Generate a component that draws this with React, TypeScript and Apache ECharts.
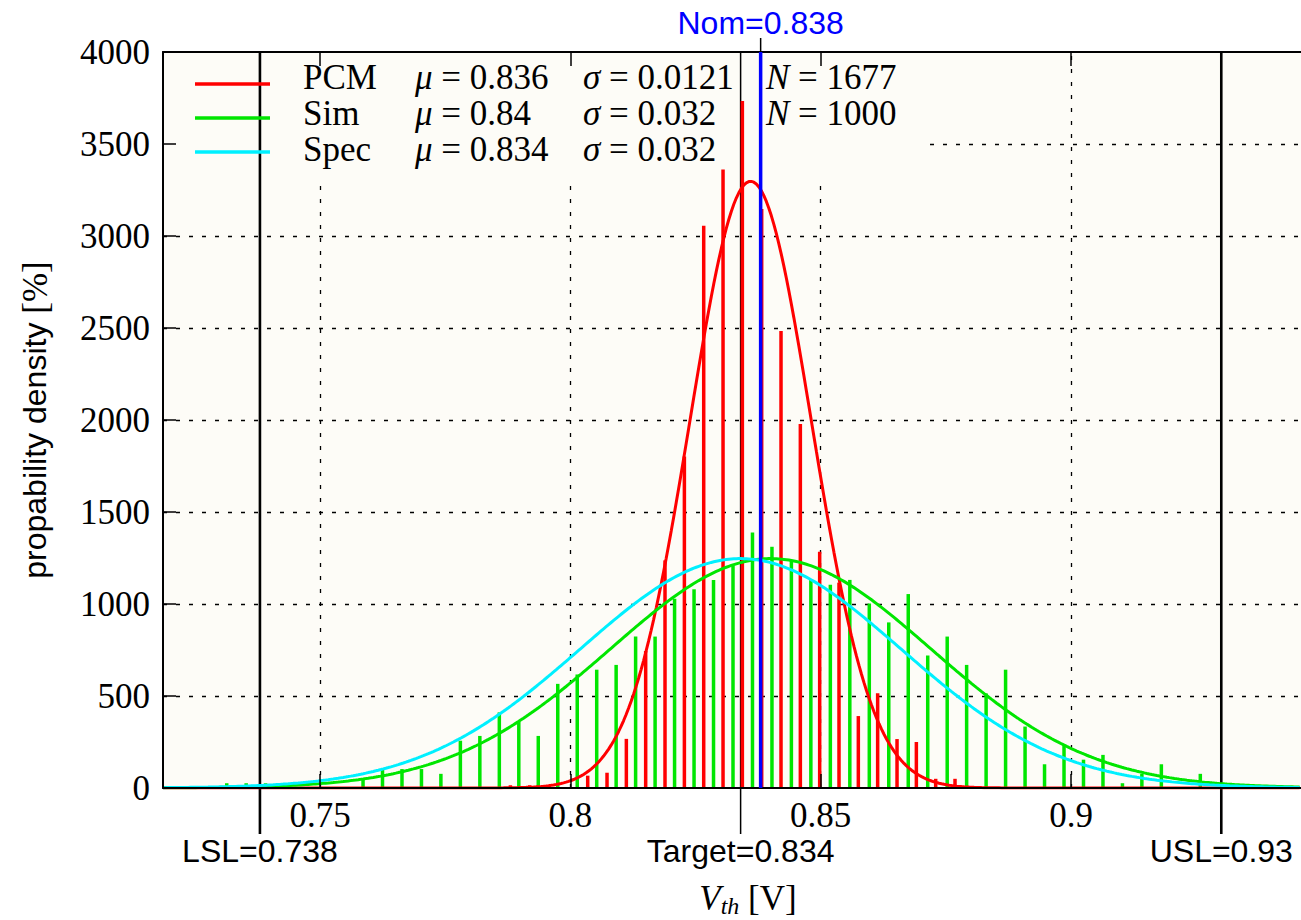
import React, { useEffect, useRef } from "react";
import * as echarts from "echarts";

// Axis ranges and tick positions
const X_MIN = 0.71864;
const X_MAX = 0.94592;
const Y_MIN = 0;
const Y_MAX = 4000;
const Y_STEP = 500;
const xTicks = [0.75, 0.8, 0.85, 0.9];
const yGridValues = [500, 1000, 1500, 2000, 2500, 3000, 3500];

// PCM histogram (bin centres in V, density in %/V)
const pcmCenters = [
  0.78802, 0.79188, 0.79574, 0.7996, 0.80346, 0.80732, 0.81118, 0.81504,
  0.8189, 0.82277, 0.82663, 0.83049, 0.83435, 0.83821, 0.84207, 0.84593,
  0.84979, 0.85365, 0.85751, 0.86137, 0.86524, 0.8691, 0.87296, 0.87682,
];
const pcmDensity = [
  15, 15, 15, 0, 67, 83, 267, 745, 1237, 1801, 3056, 3362, 3734, 3147, 2484,
  1978, 1284, 1116, 391, 515, 266, 250, 50, 50,
];

// Simulation histogram (bin centres in V, density in %/V)
const simCenters = [
  0.73137, 0.73525, 0.73914, 0.74303, 0.74692, 0.75081, 0.7547, 0.75859,
  0.76248, 0.76637, 0.77026, 0.77414, 0.77803, 0.78192, 0.78581, 0.7897,
  0.79359, 0.79748, 0.80137, 0.80526, 0.80914, 0.81303, 0.81692, 0.82081,
  0.8247, 0.82859, 0.83248, 0.83637, 0.84026, 0.84414, 0.84803, 0.85192,
  0.85581, 0.8597, 0.86359, 0.86748, 0.87137, 0.87526, 0.87914, 0.88303,
  0.88692, 0.89081, 0.8947, 0.89859, 0.90248, 0.90637, 0.91026, 0.91414,
  0.91803, 0.92192, 0.92581,
];
const simDensity = [
  26, 26, 26, 0, 0, 0, 0, 51, 103, 103, 103, 77, 257, 283, 411, 360, 283, 566,
  617, 643, 669, 823, 823, 1028, 1080, 1131, 1208, 1388, 1311, 1234, 1131,
  1105, 1131, 1003, 900, 1054, 720, 823, 669, 514, 643, 334, 129, 231, 154,
  180, 26, 77, 129, 0, 77,
];

// Normal fits shown in the legend
const fitNames = ["PCM", "Sim", "Spec"];
const fitMu = [0.836, 0.84, 0.834];
const fitSigma = [0.0121, 0.032, 0.032];
const fitN = [1677, 1000, null];
const fitColors = ["#ff0000", "#00e600", "#00f0ff"];

// Specification limits and nominal value
const specNames = ["LSL", "Target", "USL"];
const specValues = [0.738, 0.834, 0.93];
const nomName = "Nom";
const nomValue = 0.838;

const SERIF = "'Liberation Serif', 'DejaVu Serif', serif";
const SANS = "'Liberation Sans', 'DejaVu Sans', sans-serif";
const PLOT_BG = "#fdfcf7";

function normalCurve(mu: number, sigma: number): number[][] {
  const pts: number[][] = [];
  const k = 100 / (sigma * Math.sqrt(2 * Math.PI));
  for (let x = X_MIN; x <= X_MAX + 1e-9; x += 0.0005) {
    const z = (x - mu) / sigma;
    pts.push([x, k * Math.exp(-0.5 * z * z)]);
  }
  return pts;
}

export default function App() {
  const ref = useRef<HTMLDivElement>(null);

  useEffect(() => {
    if (!ref.current) return;
    const chart = echarts.init(ref.current, null, { renderer: "svg" });

    const gridLines = [
      ...yGridValues.map((v) => ({ coords: [[X_MIN, v], [X_MAX, v]] })),
      ...xTicks.map((v) => ({ coords: [[v, Y_MIN], [v, Y_MAX]] })),
    ];

    const axisCommon = {
      type: "value" as const,
      min: X_MIN,
      max: X_MAX,
      splitLine: { show: false },
      axisLine: { show: true, onZero: false, lineStyle: { color: "#000", width: 2 } },
      z: 6,
    };

    chart.setOption({
      animation: false,
      backgroundColor: "#ffffff",
      grid: {
        left: 163,
        top: 52,
        right: 0,
        bottom: 132,
        show: true,
        backgroundColor: PLOT_BG,
        borderWidth: 0,
      },
      xAxis: [
        {
          ...axisCommon,
          position: "bottom",
          axisTick: {
            show: true,
            inside: true,
            length: 14,
            customValues: xTicks,
            lineStyle: { color: "#000", width: 1.5 },
          },
          axisLabel: {
            show: true,
            customValues: xTicks,
            formatter: (v: number) => String(v),
            fontFamily: SERIF,
            fontSize: 35,
            color: "#000",
            margin: 10,
          },
        },
        {
          ...axisCommon,
          position: "top",
          axisTick: {
            show: true,
            inside: true,
            length: 14,
            customValues: xTicks,
            lineStyle: { color: "#000", width: 1.5 },
          },
          axisLabel: { show: false },
        },
      ],
      yAxis: {
        type: "value",
        min: Y_MIN,
        max: Y_MAX,
        interval: Y_STEP,
        z: 6,
        splitLine: { show: false },
        axisLine: { show: true, lineStyle: { color: "#000", width: 2 } },
        axisTick: { show: true, inside: true, length: 13, lineStyle: { color: "#000", width: 1.5 } },
        axisLabel: {
          formatter: (v: number) => String(v),
          fontFamily: SERIF,
          fontSize: 35,
          color: "#000",
          margin: 13,
        },
      },
      series: [
        {
          type: "lines",
          coordinateSystem: "cartesian2d",
          silent: true,
          z: 1,
          data: gridLines,
          lineStyle: { color: "#000", width: 1.3, type: [4, 9], opacity: 1 },
        },
        {
          name: "Sim hist",
          type: "bar",
          barWidth: 3.5,
          barGap: "-100%",
          z: 3,
          itemStyle: { color: fitColors[1] },
          data: simCenters.map((x, i) => [x, simDensity[i]]),
        },
        {
          name: "PCM hist",
          type: "bar",
          barWidth: 3.5,
          barGap: "-100%",
          z: 3,
          itemStyle: { color: fitColors[0] },
          data: pcmCenters.map((x, i) => [x, pcmDensity[i]]),
        },
        ...fitNames.map((name, i) => ({
          name,
          type: "line",
          z: 4,
          showSymbol: false,
          smooth: false,
          lineStyle: { color: fitColors[i], width: 3 },
          data: normalCurve(fitMu[i], fitSigma[i]),
        })),
      ],
    });

    const px = (v: number) => chart.convertToPixel({ xAxisIndex: 0 }, v) as number;
    const py = (v: number) => chart.convertToPixel({ yAxisIndex: 0 }, v) as number;
    const top = py(Y_MAX);
    const bottom = py(Y_MIN);
    const left = px(X_MIN);

    const elements: any[] = [];

    // legend panel hides the grid lines behind it
    elements.push({
      type: "rect",
      z: 2,
      silent: true,
      shape: { x: left + 1, y: top + 1, width: 930 - left - 1, height: 178 - top - 1 },
      style: { fill: PLOT_BG },
    });

    // spec limit lines and labels
    specValues.forEach((v, i) => {
      const x = px(v);
      elements.push({
        type: "line",
        z: 3,
        silent: true,
        shape: { x1: x, y1: top, x2: x, y2: bottom + 46 },
        style: { stroke: "#000", lineWidth: specNames[i] === "Target" ? 1.5 : 2.6 },
      });
      elements.push({
        type: "text",
        z: 7,
        x,
        y: bottom + 63,
        style: {
          text: `${specNames[i]}=${v}`,
          fontFamily: SANS,
          fontSize: 32,
          fill: "#000",
          align: "center",
          verticalAlign: "middle",
        },
      });
    });

    // nominal value marker
    const nx = px(nomValue);
    elements.push({
      type: "line",
      z: 7,
      silent: true,
      shape: { x1: nx, y1: top - 14, x2: nx, y2: top },
      style: { stroke: "#000", lineWidth: 1.5 },
    });
    elements.push({
      type: "line",
      z: 7,
      silent: true,
      shape: { x1: nx, y1: top, x2: nx, y2: bottom },
      style: { stroke: "#0000ff", lineWidth: 3.5 },
    });
    elements.push({
      type: "text",
      z: 7,
      x: nx,
      y: top - 29,
      style: {
        text: `${nomName}=${nomValue}`,
        fontFamily: SANS,
        fontSize: 32,
        fill: "#0000ff",
        align: "center",
        verticalAlign: "middle",
      },
    });

    // legend rows
    const rowText = [77, 113, 149];
    const rowLine = [84, 118, 152];
    const italic = { fontFamily: SERIF, fontStyle: "italic", fontSize: 35, fill: "#000" };
    const upright = { fontFamily: SERIF, fontSize: 35, fill: "#000" };
    fitNames.forEach((name, i) => {
      elements.push({
        type: "line",
        z: 7,
        silent: true,
        shape: { x1: 195, y1: rowLine[i], x2: 270, y2: rowLine[i] },
        style: { stroke: fitColors[i], lineWidth: 3.5 },
      });
      const cells: [number, string][] = [
        [303, `{r|${name}}`],
        [415, `{i|μ}{r| = ${fitMu[i]}}`],
        [583, `{i|σ}{r| = ${fitSigma[i]}}`],
      ];
      if (fitN[i] !== null) cells.push([766, `{i|N}{r| = ${fitN[i]}}`]);
      cells.forEach(([x, text]) => {
        elements.push({
          type: "text",
          z: 7,
          x,
          y: rowText[i],
          style: {
            text,
            align: "left",
            verticalAlign: "middle",
            fontFamily: SERIF,
            fontSize: 35,
            fill: "#000",
            rich: { i: italic, r: upright },
          },
        });
      });
    });

    // axis titles
    elements.push({
      type: "text",
      z: 7,
      x: 748,
      y: 898,
      style: {
        text: "{v|V}{s|th}{b| [V]}",
        align: "center",
        verticalAlign: "middle",
        fontFamily: SERIF,
        fontSize: 35,
        fill: "#000",
        rich: {
          v: { fontFamily: SERIF, fontStyle: "italic", fontSize: 35, lineHeight: 40, fill: "#000" },
          s: {
            fontFamily: SERIF,
            fontStyle: "italic",
            fontSize: 24,
            lineHeight: 22,
            verticalAlign: "bottom",
            fill: "#000",
          },
          b: { fontFamily: SERIF, fontSize: 35, lineHeight: 40, fill: "#000" },
        },
      },
    });
    elements.push({
      type: "text",
      z: 7,
      x: 35,
      y: (top + bottom) / 2,
      rotation: Math.PI / 2,
      style: {
        text: "{s|propability density }{b|[%]}",
        align: "center",
        verticalAlign: "middle",
        fontFamily: SANS,
        fontSize: 32,
        fill: "#000",
        rich: {
          s: { fontFamily: SANS, fontSize: 32, fill: "#000" },
          b: { fontFamily: SERIF, fontSize: 35, fill: "#000" },
        },
      },
    });

    chart.setOption({ graphic: { elements } });

    return () => chart.dispose();
  }, []);

  return (
    <div
      ref={ref}
      style={{ position: "fixed", left: 0, top: 0, width: 1301, height: 920, background: "#fff" }}
    />
  );
}
